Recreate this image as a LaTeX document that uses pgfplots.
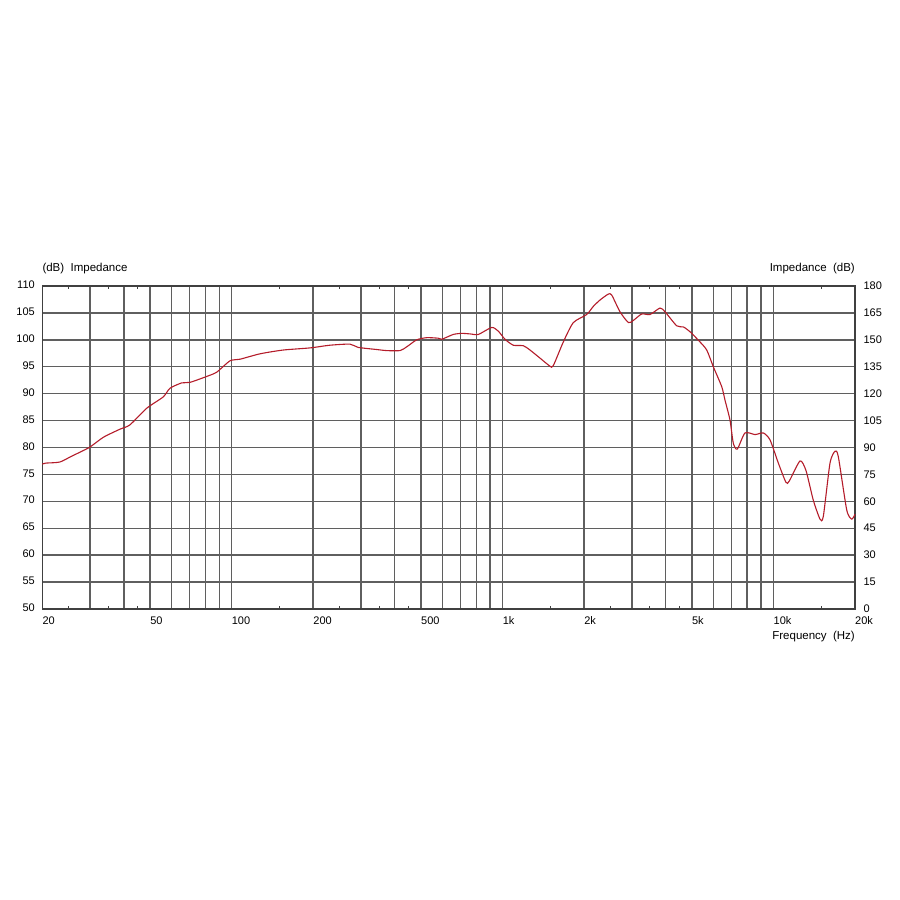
\documentclass[border=0pt]{standalone}
\usepackage{fontspec}
\setmainfont{Liberation Sans}
\usepackage{pgfplots}
\pgfplotsset{compat=1.18}
\definecolor{curve}{RGB}{180,28,42}
\definecolor{gridc}{RGB}{95,95,95}
\newcommand\lf{\fontsize{11pt}{13pt}\selectfont}
\newcommand\tf{\fontsize{11.5pt}{13pt}\selectfont}
\begin{document}
\begin{tikzpicture}[x=1pt,y=1pt]
\path[use as bounding box, fill=white] (0,0) rectangle (900,900);
\begin{axis}[
  at={(42.3pt,291pt)}, anchor=south west,
  width=812.7pt, height=323pt, scale only axis,
  xmode=log, log basis x=10,
  xmin=20, xmax=20000, ymin=50, ymax=110,
  /pgf/number format/assume math mode=true,
  xtick={20,30,40,50,60,70,80,90,100,200,300,400,500,600,700,800,900,1000,2000,3000,4000,5000,6000,7000,8000,9000,10000,20000},
  xticklabels={20,,,50,,,,,100,200,,,500,,,,,1k,2k,,,5k,,,,,10k,20k},
  minor xtick={},
  xticklabel style={anchor=base west, inner sep=0pt, yshift=-15.3pt, font=\lf},
  typeset ticklabels with strut,
  ytick={50,55,...,110},
  yticklabel style={font=\lf, xshift=-4pt},
  major tick length=0pt,
  grid=major,
  major grid style={gridc, line width=1.45pt},
  axis line style={draw=black!75, line width=1.45pt},
  extra x ticks={25,35,45,150,250,350,450,1500,2500,3500,4500,15000},
  extra x tick labels={},
  extra x tick style={grid=none, major tick length=3pt, tick style={black!75, line width=0.9pt}},
  tick align=inside,
  clip=false,
]
\addplot[curve, line width=1.1pt, smooth, tension=0.4] coordinates {
(20,76.9) (20.6,77.1) (23.2,77.3) (25.7,78.4) (29.8,80.0) (33.6,81.9) (38.7,83.4)
(42.1,84.2) (48.6,87.3) (55.9,89.4) (59.2,91.0) (65.4,92.0) (70.2,92.1) (80.9,93.2)
(88.1,94.0) (98.6,96.1) (107.4,96.4) (127.2,97.4) (154.7,98.1) (194.6,98.5) (230.7,99.0)
(273.4,99.2) (292.7,98.6) (343.1,98.2) (373.5,98.0) (418.3,98.0) (442.8,98.7) (482,100.0)
(524.8,100.4) (579.1,100.3) (596.2,100.1) (657.9,101.0) (706.7,101.2) (758.4,101.1)
(814,101.0) (912,102.3) (964.8,101.6) (1021,100.1) (1096,99.0) (1193,98.9) (1263,98.1)
(1375,96.6) (1497,95.1) (1539,95.2) (1676,99.6) (1825,103.2) (2044,104.7) (2162,106.2)
(2290,107.4) (2458,108.5) (2530,108.3) (2714,105.2) (2914,103.2) (3038,103.6) (3264,104.8)
(3502,104.7) (3813,105.9) (3980,105.2) (4395,102.6) (4648,102.4) (4920,101.5) (5357,99.6)
(5672,98.1) (5998,95.0) (6442,91.3) (6624,88.8) (6911,85.1) (7109,80.8) (7354,79.7)
(7852,82.7) (8550,82.4) (9175,82.7) (9714,81.4) (10424,77.1) (11128,73.5) (11446,73.8)
(12532,77.5) (13186,75.7) (14032,70.2) (14854,66.7) (15276,67.2) (16170,77.1) (16875,79.3)
(17353,78.3) (18641,68.4) (19448,66.7) (20000,67.6)
};
\node[anchor=base west, inner sep=0pt, font=\tf] at (rel axis cs:0,1) [yshift=14.5pt] {(dB)\ \ Impedance};
\node[anchor=base east, inner sep=0pt, font=\tf] at (rel axis cs:1,1) [yshift=14.5pt] {Impedance\ \ (dB)};
\node[anchor=base east, inner sep=0pt, font=\tf] at (rel axis cs:1,0) [yshift=-30.5pt] {Frequency\ \ (Hz)};
\end{axis}
\begin{axis}[
  at={(42.3pt,291pt)}, anchor=south west,
  width=812.7pt, height=323pt, scale only axis,
  xmin=0, xmax=1, ymin=0, ymax=180,
  axis x line=none, axis y line*=right,
  axis line style={draw=none},
  /pgf/number format/assume math mode=true,
  ytick={0,15,...,180},
  yticklabel style={font=\lf, xshift=5pt},
  major tick length=0pt,
]
\addplot[draw=none] coordinates {(0,0)};
\end{axis}
\end{tikzpicture}
\end{document}
